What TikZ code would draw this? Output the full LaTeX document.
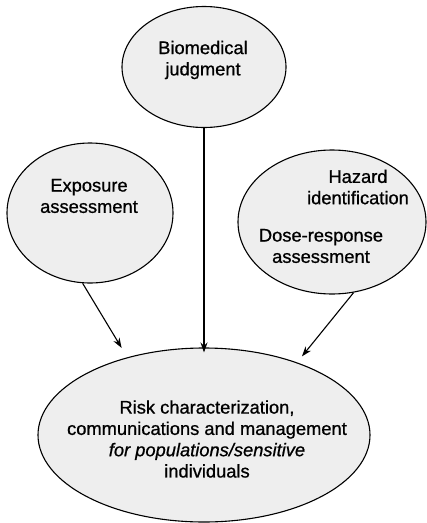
\documentclass[tikz,border=0pt]{standalone}
\usepackage{fontspec}
\setmainfont[FakeBold=0.8]{Liberation Sans}
\usetikzlibrary{shapes.geometric,arrows.meta}
\definecolor{stipple}{HTML}{EEEEEE}

\begin{document}
\begin{tikzpicture}[x=1pt,y=-1pt,
    blob/.style={ellipse,draw,line width=1.1pt,fill=stipple,inner sep=0pt},
    lbl/.style={align=center,font=\fontsize{18.3}{21.3}\selectfont},
    feed/.style={line width=1.1pt,-{Stealth[length=10pt,width=7pt]}}]
  \useasboundingbox (0,0) rectangle (427,523);
  % the four ellipses
  \node[blob,minimum width=164pt,minimum height=121pt] (bio) at (204,67) {};
  \node[blob,minimum width=166pt,minimum height=140pt] (expo) at (90,213) {};
  \node[blob,minimum width=188pt,minimum height=144pt] (haz) at (332,222) {};
  \node[blob,minimum width=332pt,minimum height=174pt] (risk) at (204,435) {};
  % their texts
  \node[lbl] (biotext) at (203,60) {Biomedical\\judgment};
  \node[lbl] (expotext) at (89,196) {Exposure\\assessment};
  \node[lbl] (haztext) at (358,187) {Hazard\\identification};
  \node[lbl] (dosetext) at (321,246) {Dose-response\\assessment};
  \node[lbl] (risktext) at (207,439)
    {Risk characterization,\\communications and management\\
     \textit{for populations/sensitive}\\individuals};
  % arrows into the bottom ellipse
  \draw[feed] (expo.-96) -- ([shift={(-7,-9)}]risk.134);
  \draw[feed] (bio.south) -- ([yshift=-5pt]risk.north);
  \draw[feed] (haz.-73) -- ([shift={(5,-6)}]risk.38);
\end{tikzpicture}
\end{document}
